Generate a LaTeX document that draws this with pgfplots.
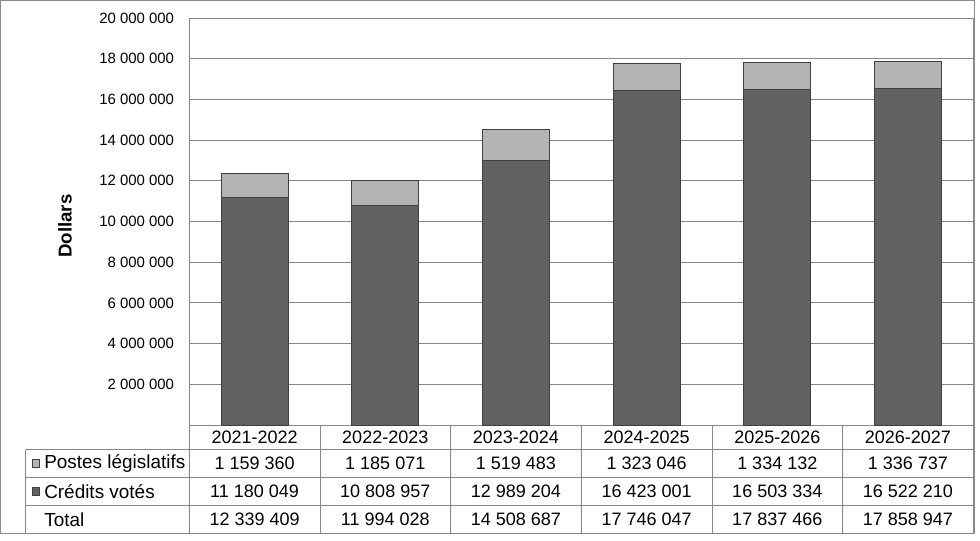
\documentclass[border=0pt]{standalone}
\usepackage{pgfplots}
\pgfplotsset{compat=1.18}
\usepackage{fontspec}
\setmainfont{Liberation Sans}
\definecolor{lightbar}{HTML}{B4B4B4}
\definecolor{darkbar}{HTML}{616161}
\definecolor{barline}{HTML}{404040}
\definecolor{gridc}{HTML}{878787}
\definecolor{borderc}{HTML}{8C8C8C}
\begin{document}
\begin{tikzpicture}
\begin{scope}[x=0.75pt,y=-0.75pt]
\fill[white] (0,0) rectangle (980,540);
\useasboundingbox (0,0) rectangle (980,540);
\draw[borderc, line width=0.75pt] (0.5,0.5) rectangle (974.5,533.5);
\end{scope}
\begin{axis}[
  scale only axis, width=588pt, height=305.25pt,
  at={(141.98pt,-318.75pt)}, anchor=south west,
  ybar stacked, bar width=50.25pt,
  xmin=-0.5, xmax=5.5, ymin=0, ymax=20000000,
  xtick=\empty,
  ytick={2000000,4000000,6000000,8000000,10000000,12000000,14000000,16000000,18000000,20000000},
  yticklabels={2 000 000,4 000 000,6 000 000,8 000 000,10 000 000,12 000 000,14 000 000,16 000 000,18 000 000,20 000 000},
  scaled y ticks=false,
  ymajorgrids, grid style={draw=gridc, line width=0.75pt},
  major tick length=0pt,
  axis line style={draw=gridc, line width=0.75pt},
  yticklabel style={font=\fontsize{11.2}{13}\selectfont, anchor=east, inner sep=0pt, xshift=-11.25pt},
  clip=false,
]
\addplot[fill=darkbar, draw=barline, line width=0.75pt] coordinates {(0,11180049) (1,10808957) (2,12989204) (3,16423001) (4,16503334) (5,16522210)};
\addplot[fill=lightbar, draw=barline, line width=0.75pt] coordinates {(0,1159360) (1,1185071) (2,1519483) (3,1323046) (4,1334132) (5,1336737)};
\end{axis}
\begin{scope}[x=0.75pt,y=-0.75pt]
\node[rotate=90, font=\fontsize{14}{16}\selectfont\bfseries] at (65,226) {Dollars};
% table lines
\foreach \yy in {449.5,477.5,505.5,533} \draw[gridc, line width=0.75pt] (25.5,\yy) -- (973.3,\yy);
\draw[gridc, line width=0.75pt] (25.5,449.5) -- (25.5,533);
\foreach \xx in {189.3,320,450.6,581.3,712,842.6,973.3} \draw[gridc, line width=0.75pt] (\xx,425) -- (\xx,533);
% headers
\foreach \lab [count=\i from 0] in {2021-2022,2022-2023,2023-2024,2024-2025,2025-2026,2026-2027}
  \node[font=\fontsize{13.5}{15}\selectfont] at (254.6+130.67*\i,437.5) {\lab};
\foreach \lab [count=\i from 0] in {1 159 360,1 185 071,1 519 483,1 323 046,1 334 132,1 336 737}
  \node[font=\fontsize{13.5}{15}\selectfont] at (254.6+130.67*\i,463.5) {\lab};
\foreach \lab [count=\i from 0] in {11 180 049,10 808 957,12 989 204,16 423 001,16 503 334,16 522 210}
  \node[font=\fontsize{13.5}{15}\selectfont] at (254.6+130.67*\i,491.5) {\lab};
\foreach \lab [count=\i from 0] in {12 339 409,11 994 028,14 508 687,17 746 047,17 837 466,17 858 947}
  \node[font=\fontsize{13.5}{15}\selectfont] at (254.6+130.67*\i,519.3) {\lab};
% row labels
\draw[barline, fill=lightbar, line width=0.4pt] (32,459.5) rectangle (39.5,467);
\draw[barline, fill=darkbar, line width=0.4pt] (32,487.5) rectangle (39.5,495);
\node[font=\fontsize{14.2}{16}\selectfont, anchor=west, inner sep=0pt] at (44,463.5) {Postes législatifs};
\node[font=\fontsize{14.2}{16}\selectfont, anchor=west, inner sep=0pt] at (44,491.5) {Crédits votés};
\node[font=\fontsize{14.2}{16}\selectfont, anchor=west, inner sep=0pt] at (44,519.3) {Total};
\end{scope}
\end{tikzpicture}
\end{document}
